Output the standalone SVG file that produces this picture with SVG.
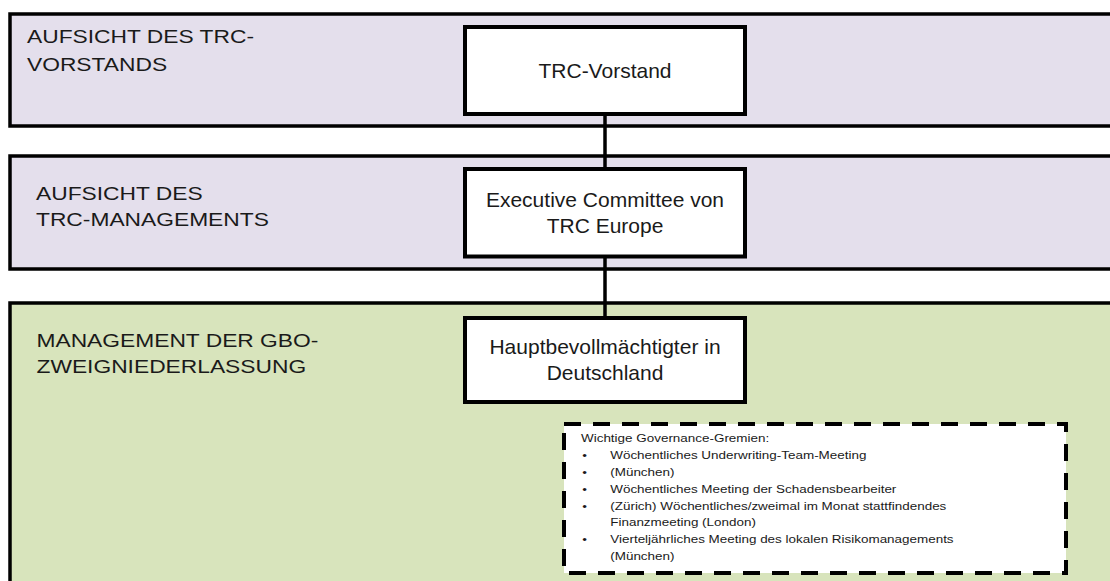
<svg xmlns="http://www.w3.org/2000/svg" width="1110" height="581" viewBox="0 0 1110 581">
<style>
.band{stroke:#000;stroke-width:3.5}
.lav{fill:#E4DFEC}
.grn{fill:#D8E4BC}
.node{fill:#fff;stroke:#000;stroke-width:4}
.lbl{font-family:"Liberation Sans",Arial,sans-serif;font-size:19px;fill:#1a1a1a}
.ntxt{font-family:"Liberation Sans",Arial,sans-serif;font-size:21px;fill:#1a1a1a;text-anchor:middle}
.small{font-family:"Liberation Sans",Arial,sans-serif;font-size:11.5px;fill:#1a1a1a}
.conn{stroke:#000;stroke-width:3.5;fill:none}
</style>
<rect width="1110" height="581" fill="#fff"/>
<g id="band-vorstand">
<rect class="band lav" x="10" y="14" width="1110" height="112"/>
<text class="lbl" transform="translate(27,0) scale(1.2,1)"><tspan x="0" y="43">AUFSICHT DES TRC-</tspan><tspan x="0" y="71">VORSTANDS</tspan></text>
</g>
<g id="band-management">
<rect class="band lav" x="10" y="156" width="1110" height="113"/>
<text class="lbl" transform="translate(36,0) scale(1.2,1)"><tspan x="0" y="200">AUFSICHT DES</tspan><tspan x="0" y="226">TRC-MANAGEMENTS</tspan></text>
</g>
<g id="band-gbo">
<rect class="band grn" x="10" y="303" width="1110" height="300"/>
<text class="lbl" transform="translate(36.5,0) scale(1.2,1)"><tspan x="0" y="347">MANAGEMENT DER GBO-</tspan><tspan x="0" y="373">ZWEIGNIEDERLASSUNG</tspan></text>
</g>
<g id="connectors">
<line class="conn" x1="605" y1="114" x2="605" y2="169"/>
<line class="conn" x1="605" y1="256" x2="605" y2="318"/>
</g>
<g id="node-trc-vorstand">
<rect class="node" x="465" y="27" width="280" height="87"/>
<text class="ntxt" x="605" y="78">TRC-Vorstand</text>
</g>
<g id="node-executive-committee">
<rect class="node" x="465" y="169" width="280" height="87.5"/>
<text class="ntxt"><tspan x="605" y="207">Executive Committee von</tspan><tspan x="605" y="233">TRC Europe</tspan></text>
</g>
<g id="node-hauptbevollmaechtigter">
<rect class="node" x="465" y="318" width="280" height="84"/>
<text class="ntxt"><tspan x="605" y="354">Hauptbevollmächtigter in</tspan><tspan x="605" y="380">Deutschland</tspan></text>
</g>
<g id="node-governance">
<rect x="564" y="424" width="502" height="149" fill="#fff" stroke="#000" stroke-width="4" stroke-dasharray="17 12"/>
<g transform="translate(581,0) scale(1.17,1)">
<text class="small" x="0" y="442">Wichtige Governance-Gremien:</text>
<text class="small" x="1" y="458.9">•</text>
<text class="small" x="1" y="475.8">•</text>
<text class="small" x="1" y="492.7">•</text>
<text class="small" x="1" y="509.6">•</text>
<text class="small" x="1" y="543.4">•</text>
<text class="small" x="25" y="458.9">Wöchentliches Underwriting-Team-Meeting</text>
<text class="small" x="25" y="475.8">(München)</text>
<text class="small" x="25" y="492.7">Wöchentliches Meeting der Schadensbearbeiter</text>
<text class="small" x="25" y="509.6">(Zürich) Wöchentliches/zweimal im Monat stattfindendes</text>
<text class="small" x="25" y="526.5">Finanzmeeting (London)</text>
<text class="small" x="25" y="543.4">Vierteljährliches Meeting des lokalen Risikomanagements</text>
<text class="small" x="25" y="560.3">(München)</text>
</g>
</g>
</svg>
